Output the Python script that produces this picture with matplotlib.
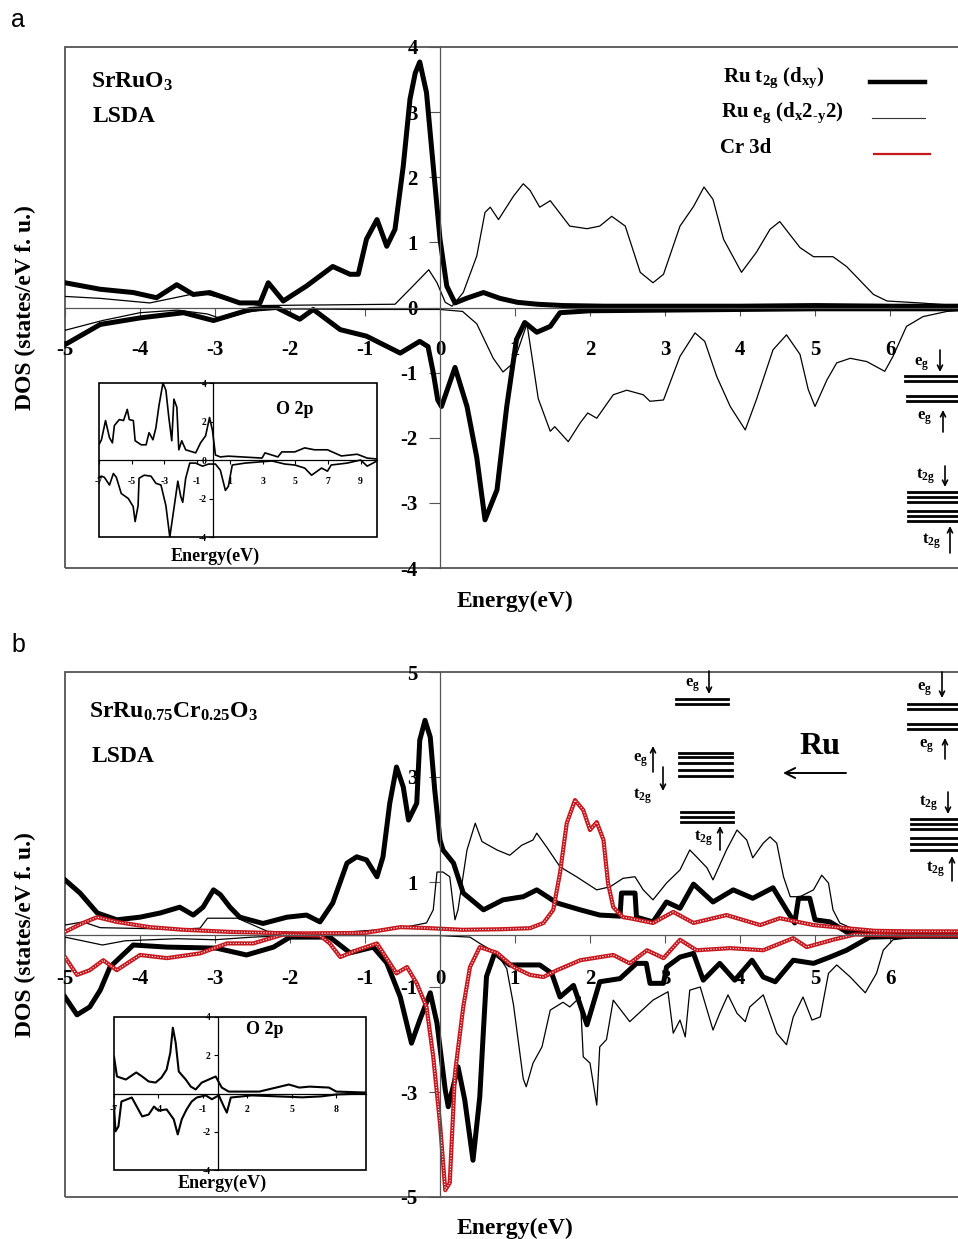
import matplotlib
matplotlib.use('Agg')
import matplotlib.pyplot as plt
from matplotlib.patches import Rectangle, FancyArrowPatch
from matplotlib.lines import Line2D

plt.rcParams['font.family'] = ['Liberation Serif', 'DejaVu Serif']
plt.rcParams['font.weight'] = 'bold'
plt.rcParams['mathtext.default'] = 'regular'
plt.rcParams['axes.unicode_minus'] = False

# ---- panel a : SrRuO3 ----
a_t2g_up_x = [-5, -4.53, -4.09, -3.78, -3.51, -3.29, -3.07, -2.67, -2.4, -2.29, -2.09, -1.78, -1.43, -1.2, -1.09,
              -0.98, -0.84, -0.71, -0.6, -0.49, -0.4, -0.33, -0.27, -0.18, -0.09, 0.0, 0.09, 0.2, 0.35, 0.58, 0.8,
              1.03, 1.3, 1.64, 2.2, 3, 4, 5, 6, 6.9]
a_t2g_up_y = [0.38, 0.28, 0.23, 0.15, 0.35, 0.2, 0.23, 0.07, 0.07, 0.38, 0.1, 0.33, 0.63, 0.51, 0.51,
              1.05, 1.35, 0.94, 1.2, 2.17, 3.2, 3.6, 3.77, 3.3, 2.17, 1.05, 0.33, 0.07, 0.14, 0.23, 0.14,
              0.08, 0.05, 0.03, 0.02, 0.02, 0.02, 0.03, 0.02, 0.02]
a_t2g_dn_x = [-5, -4.53, -4.0, -3.42, -3.02, -2.53, -2.18, -1.87, -1.69, -1.33, -0.98, -0.53, -0.27, -0.16, -0.09,
              -0.03, 0.02, 0.2, 0.36, 0.49, 0.6, 0.76, 0.89, 1.02, 1.13, 1.29, 1.47, 1.6, 2.0, 3.0, 4.0, 5.0, 6.0, 6.9]
a_t2g_dn_y = [-0.57, -0.26, -0.16, -0.08, -0.2, -0.03, 0.0, -0.18, -0.03, -0.34, -0.44, -0.7, -0.52, -0.6, -1.0,
              -1.42, -1.52, -0.92, -1.52, -2.3, -3.26, -2.8, -1.52, -0.49, -0.23, -0.38, -0.29, -0.08, -0.05,
              -0.04, -0.03, -0.02, -0.02, -0.02]
a_eg_up_x = [-5, -4.53, -3.87, -3.2, -2.76, -2.4, -1.5, -0.6, -0.36, -0.15, -0.04, 0.07, 0.16, 0.31, 0.49, 0.6,
             0.67, 0.78, 0.98, 1.11, 1.2, 1.33, 1.47, 1.73, 1.96, 2.13, 2.29, 2.47, 2.67, 2.84, 2.98, 3.2, 3.38,
             3.52, 3.64, 3.78, 4.02, 4.22, 4.4, 4.53, 4.8, 4.98, 5.24, 5.42, 5.78, 5.96, 6.4, 6.9]
a_eg_up_y = [0.17, 0.14, 0.07, 0.23, 0.1, 0.03, 0.04, 0.05, 0.33, 0.58, 0.38, 0.08, 0.02, 0.23, 0.79, 1.46,
             1.54, 1.35, 1.71, 1.9, 1.8, 1.54, 1.64, 1.25, 1.21, 1.25, 1.4, 1.25, 0.54, 0.38, 0.51, 1.25, 1.55,
             1.85, 1.66, 1.05, 0.54, 0.85, 1.2, 1.32, 0.92, 0.78, 0.78, 0.63, 0.2, 0.1, 0.07, 0.03]
a_eg_dn_x = [-5, -4.5, -4.0, -3.5, -3.1, -2.9, -2.6, -2.3, -1.0, 0.0, 0.3, 0.49, 0.71, 0.84, 0.98, 1.16, 1.31,
             1.47, 1.53, 1.71, 1.87, 1.97, 2.09, 2.31, 2.49, 2.71, 2.8, 2.98, 3.2, 3.4, 3.53, 3.69, 3.87, 4.07,
             4.22, 4.44, 4.62, 4.8, 4.91, 5.0, 5.16, 5.29, 5.47, 5.69, 5.93, 6.04, 6.22, 6.44, 6.76, 6.9]
a_eg_dn_y = [-0.35, -0.2, -0.08, -0.04, -0.1, -0.18, -0.08, -0.02, -0.03, -0.03, -0.06, -0.25, -0.78, -0.99,
             -0.85, -0.25, -1.4, -1.9, -1.83, -2.06, -1.77, -1.62, -1.7, -1.34, -1.27, -1.34, -1.44, -1.42,
             -0.75, -0.39, -0.52, -1.06, -1.52, -1.88, -1.41, -0.65, -0.42, -0.72, -1.26, -1.52, -1.11, -0.85,
             -0.78, -0.83, -0.98, -0.75, -0.29, -0.14, -0.06, -0.05]

# ---- panel b : SrRu0.75Cr0.25O3 ----
b_t2g_up_x = [-5, -4.8, -4.57, -4.31, -4.0, -3.73, -3.47, -3.29, -3.16, -3.02, -2.93, -2.8, -2.67, -2.36, -2.04,
              -1.78, -1.6, -1.43, -1.24, -1.11, -0.98, -0.84, -0.76, -0.67, -0.58, -0.49, -0.42, -0.31, -0.27,
              -0.2, -0.13, -0.07, 0.0, 0.04, 0.18, 0.31, 0.58, 0.84, 1.11, 1.29, 1.56, 1.87, 2.13, 2.4, 2.42,
              2.6, 2.62, 2.84, 3.02, 3.2, 3.38, 3.64, 3.91, 4.17, 4.44, 4.62, 4.73, 4.78, 4.93, 5.0, 5.2, 5.42,
              5.8, 6.3, 6.9]
b_t2g_up_y = [1.04, 0.79, 0.41, 0.28, 0.33, 0.41, 0.52, 0.37, 0.52, 0.85, 0.76, 0.52, 0.33, 0.21, 0.33,
              0.37, 0.24, 0.6, 1.36, 1.48, 1.42, 1.1, 1.48, 2.5, 3.19, 2.81, 2.18, 2.5, 3.7,
              4.08, 3.76, 2.75, 1.8, 1.61, 1.36, 0.79, 0.47, 0.66, 0.72, 0.85, 0.6, 0.47, 0.37, 0.35, 0.79,
              0.79, 0.33, 0.24, 0.62, 0.5, 0.96, 0.62, 0.85, 0.69, 0.89, 0.47, 0.22, 0.69, 0.69, 0.28, 0.24, 0.05,
              0.0, -0.03, -0.03]
b_t2g_dn_x = [-5, -4.84, -4.67, -4.53, -4.4, -4.09, -3.64, -2.98, -2.58, -2.22, -2.0, -1.64, -1.47, -1.2, -0.89,
              -0.71, -0.53, -0.38, -0.27, -0.13, -0.04, 0.07, 0.11, 0.24, 0.33, 0.44, 0.53, 0.58, 0.62, 0.73,
              0.93, 1.33, 1.49, 1.6, 1.78, 1.96, 2.13, 2.4, 2.62, 2.75, 2.8, 2.98, 3.02, 3.2, 3.38, 3.51, 3.73,
              3.93, 4.16, 4.31, 4.47, 4.71, 4.98, 5.2, 5.42, 5.73, 6.3, 6.9]
b_t2g_dn_y = [-1.19, -1.53, -1.38, -1.06, -0.62, -0.2, -0.24, -0.26, -0.39, -0.24, -0.05, -0.05, -0.05, -0.35,
              -0.24, -0.54, -1.19, -2.07, -1.63, -1.11, -1.69, -2.96, -3.28, -2.52, -3.15, -4.3, -3.1, -1.8,
              -0.8, -0.35, -0.58, -0.58, -0.74, -1.19, -0.97, -1.72, -0.9, -0.84, -0.55, -0.55, -0.93, -0.93,
              -0.62, -0.43, -0.36, -0.87, -0.55, -0.87, -0.49, -0.81, -0.9, -0.49, -0.55, -0.43, -0.3, -0.05,
              -0.03, -0.03]
b_eg_up_x = [-5, -4.76, -4.53, -3.5, -3.2, -3.1, -2.7, -2.3, -1.5, -0.53, -0.18, -0.09, -0.04, 0.04, 0.13, 0.2,
             0.24, 0.36, 0.47, 0.56, 0.76, 0.93, 1.09, 1.24, 1.29, 1.42, 1.6, 1.82, 2.09, 2.27, 2.44, 2.6, 2.71,
             2.84, 3.02, 3.2, 3.33, 3.42, 3.56, 3.64, 3.82, 3.96, 4.09, 4.17, 4.31, 4.4, 4.49, 4.58, 4.67, 4.8,
             4.98, 5.09, 5.18, 5.24, 5.33, 5.6, 6.2, 6.9]
b_eg_up_y = [0.18, 0.24, 0.13, 0.1, 0.12, 0.31, 0.31, 0.06, 0.02, 0.12, 0.22, 0.47, 1.19, 1.19, 1.1, 0.28,
             0.47, 1.61, 2.12, 1.77, 1.61, 1.51, 1.7, 1.8, 1.93, 1.67, 1.29, 1.1, 0.85, 0.91, 1.07, 1.1, 0.85,
             0.66, 0.98, 1.23, 1.61, 1.48, 1.27, 1.04, 1.61, 1.99, 1.8, 1.46, 1.74, 1.86, 1.74, 1.1, 0.72, 0.72,
             0.85, 1.13, 0.98, 0.47, 0.22, 0.05, 0.02, 0.02]
b_eg_dn_x = [-5, -4.5, -4.2, -3.5, -3.0, -2.5, -2.0, 0.0, 0.4, 0.53, 0.76, 0.89, 0.98, 1.11, 1.15, 1.2, 1.24,
             1.36, 1.47, 1.64, 1.73, 1.87, 1.91, 2.0, 2.09, 2.13, 2.22, 2.31, 2.53, 2.84, 3.04, 3.11, 3.2, 3.27,
             3.33, 3.47, 3.64, 3.73, 3.84, 3.96, 4.07, 4.13, 4.31, 4.49, 4.62, 4.71, 4.84, 4.96, 5.07, 5.18,
             5.29, 5.47, 5.67, 5.82, 5.91, 6.04, 6.5, 6.9]
b_eg_dn_y = [-0.05, -0.2, -0.12, -0.08, -0.1, -0.05, -0.02, -0.02, -0.05, -0.17, -0.36, -0.65, -1.34, -2.75,
             -2.9, -2.65, -2.45, -2.14, -1.44, -1.29, -1.38, -1.19, -2.33, -2.45, -3.25, -2.14, -2.0, -1.25,
             -1.66, -1.25, -1.09, -1.88, -1.63, -1.95, -1.06, -1.0, -1.82, -1.5, -1.15, -1.5, -1.66, -1.38,
             -1.15, -1.88, -2.1, -1.57, -1.19, -1.63, -1.57, -0.74, -0.58, -0.81, -1.11, -0.74, -0.3, -0.1,
             -0.02, -0.02]
b_cr_up_x = [-5, -4.76, -4.57, -4.31, -3.87, -3.42, -2.8, -2.0, -1.0, -0.53, -0.13, 0.3, 0.8, 1.2, 1.38, 1.51,
             1.6, 1.69, 1.8, 1.91, 2.0, 2.09, 2.18, 2.24, 2.31, 2.44, 2.53, 2.84, 3.11, 3.38, 3.82, 4.27, 4.53,
             4.98, 5.42, 5.8, 6.3, 6.9]
b_cr_up_y = [0.05, 0.22, 0.33, 0.24, 0.14, 0.09, 0.05, 0.02, 0.03, 0.14, 0.12, 0.09, 0.1, 0.12, 0.22, 0.47,
             1.17, 2.12, 2.56, 2.37, 1.99, 2.14, 1.8, 0.98, 0.52, 0.33, 0.31, 0.22, 0.43, 0.22, 0.37, 0.18, 0.31,
             0.18, 0.12, 0.07, 0.06, 0.06]
b_cr_dn_x = [-5, -4.84, -4.67, -4.49, -4.31, -4.0, -3.64, -3.2, -2.84, -2.49, -2.09, -1.6, -1.47, -1.33, -1.11,
             -0.84, -0.58, -0.44, -0.31, -0.18, -0.09, 0.0, 0.07, 0.13, 0.2, 0.31, 0.4, 0.53, 0.76, 0.98, 1.2,
             1.38, 1.56, 1.87, 2.31, 2.53, 2.76, 2.98, 3.2, 3.42, 3.87, 4.31, 4.71, 4.89, 5.24, 5.53, 6.2, 6.9]
b_cr_dn_y = [-0.43, -0.77, -0.68, -0.49, -0.68, -0.39, -0.45, -0.36, -0.17, -0.17, 0.0, -0.02, -0.17, -0.43,
             -0.3, -0.17, -0.74, -0.62, -0.93, -1.38, -2.33, -3.6, -4.87, -4.73, -2.64, -1.38, -0.62, -0.24,
             -0.35, -0.62, -0.77, -0.81, -0.68, -0.49, -0.39, -0.55, -0.3, -0.45, -0.1, -0.3, -0.26, -0.3,
             -0.07, -0.24, -0.1, 0.0, -0.02, -0.02]

# ---- insets : O 2p ----
ia_up_x = [-7, -6.85, -6.6, -6.36, -6.18, -6.06, -5.76, -5.5, -5.27, -5.15, -4.9, -4.79, -4.42, -4.12, -3.94,
           -3.7, -3.52, -3.33, -3.09, -2.91, -2.73, -2.55, -2.42, -2.24, -2.12, -1.94, -1.7, -1.09, -0.79, -0.48,
           -0.24, -0.06, 0.12, 0.42, 0.91, 2.97, 3.15, 3.94, 4.18, 4.97, 5.58, 6.18, 6.97, 7.82, 8.79, 9.4, 10]
ia_up_y = [0.8, 1.05, 2.05, 1.16, 0.89, 1.79, 2.1, 2.05, 2.63, 2.1, 2.05, 1.0, 0.79, 0.79, 1.42, 1.05, 1.68,
           2.84, 4.0, 3.63, 2.21, 1.0, 3.16, 2.74, 0.53, 1.0, 0.53, 0.37, 0.89, 1.26, 2.21, 1.53, 0.26, 0.16,
           0.2, 0.1, 0.37, 0.16, 0.42, 0.42, 0.63, 0.53, 0.53, 0.21, 0.3, 0.1, 0.05]
ia_dn_x = [-7, -6.85, -6.67, -6.36, -6.12, -5.94, -5.64, -5.21, -4.91, -4.79, -4.61, -4.55, -4.24, -3.82, -3.52,
           -3.21, -2.91, -2.67, -2.42, -2.18, -2.0, -1.88, -1.7, -1.45, -1.09, -0.67, -0.3, 0.12, 0.42, 0.73,
           0.91, 1.15, 1.94, 3.58, 4.36, 4.97, 5.58, 6.0, 6.61, 6.97, 7.2, 8.18, 9.0, 9.4, 10]
ia_dn_y = [-0.9, -0.84, -0.9, -1.3, -0.7, -0.9, -1.74, -2.0, -2.42, -3.2, -2.37, -0.95, -0.79, -0.84, -1.21,
           -1.3, -2.37, -4.0, -2.53, -1.1, -1.9, -2.2, -0.95, -0.16, -0.16, -0.32, -0.21, -0.21, -0.53, -1.58,
           -1.37, -0.26, -0.16, -0.05, -0.21, -0.26, -0.42, -0.79, -0.42, -0.58, -0.26, -0.16, 0.0, -0.32, -0.05]
ib_up_x = [-7, -6.8, -6.2, -5.5, -5.1, -4.66, -4.2, -3.8, -3.45, -3.2, -3.03, -2.84, -2.63, -2.16, -1.82, -1.49,
           -1.08, -0.61, -0.14, 0.27, 0.74, 2.8, 4.8, 5.5, 6.2, 7.5, 8.0, 10]
ib_up_y = [1.93, 0.89, 0.73, 1.1, 0.89, 0.63, 0.57, 0.83, 1.25, 2.14, 3.44, 2.66, 1.15, 0.73, 0.36, 0.21, 0.57,
           0.73, 0.89, 0.31, 0.1, 0.1, 0.47, 0.31, 0.36, 0.31, 0.1, 0.05]
ib_dn_x = [-7, -6.9, -6.7, -6.5, -5.8, -5.1, -4.66, -4.3, -4.0, -3.45, -2.97, -2.7, -2.43, -2.1, -1.76, -1.42,
           -0.81, -0.4, 0.07, 0.41, 0.61, 0.88, 2.3, 5.7, 7.0, 8.0, 10]
ib_dn_y = [-0.68, -1.98, -1.72, -0.42, -0.21, -1.2, -1.1, -0.68, -0.9, -0.83, -1.35, -2.14, -1.35, -0.83, -0.42,
           -0.21, -0.1, -0.3, -0.1, -0.68, -1.0, -0.21, -0.1, -0.2, -0.15, -0.05, 0.0]

W, H = 958, 1239
fig = plt.figure(figsize=(W / 100, H / 100), dpi=100)
GREY = '#555555'
RED = '#c8161d'


def box(l, t, r, b):
    return [l / W, 1 - b / H, (r - l) / W, (b - t) / H]


def ftext(x, y, s, **kw):
    kw.setdefault('ha', 'center')
    kw.setdefault('va', 'center')
    fig.text(x / W, 1 - y / H, s, **kw)


def hline(x0, x1, y, lw=2.0, color='k'):
    fig.add_artist(Line2D([x0 / W, x1 / W], [1 - y / H, 1 - y / H], color=color, lw=lw))


def arrow(x0, y0, x1, y1, ms=9, lw=1.2):
    fig.add_artist(FancyArrowPatch((x0 / W, 1 - y0 / H), (x1 / W, 1 - y1 / H), transform=fig.transFigure,
                                   arrowstyle='->', mutation_scale=ms, lw=lw, color='k',
                                   shrinkA=0, shrinkB=0))


def dos_axes(rect, ylim, yticks, xpad):
    ax = fig.add_axes(rect)
    ax.set_xlim(-5, -5 + (958 - 65) / 75)
    ax.set_ylim(*ylim)
    ax.spines['left'].set_position('zero')
    ax.spines['bottom'].set_position('zero')
    ax.spines['right'].set_visible(False)
    ax.spines['top'].set_visible(False)
    for s in ax.spines.values():
        s.set_color(GREY)
        s.set_linewidth(0.9)
    ax.add_patch(Rectangle((0, 0), 1.1, 1, transform=ax.transAxes, fill=False, ec=GREY, lw=1.3,
                           clip_on=False))
    ax.set_xticks(range(-5, 7))
    ax.set_yticks(yticks)
    ax.tick_params(axis='x', direction='out', length=6, pad=xpad, labelsize=15, color=GREY)
    ax.tick_params(axis='y', direction='out', length=8, pad=8, labelsize=15, color=GREY)
    return ax


def o2p_inset(rect, xticks, yticks, xpad):
    ins = fig.add_axes(rect)
    ins.set_facecolor('white')
    ins.set_xlim(-7, 10)
    ins.set_ylim(-4, 4)
    ins.spines['left'].set_position('zero')
    ins.spines['bottom'].set_position('zero')
    ins.spines['right'].set_visible(False)
    ins.spines['top'].set_visible(False)
    for s in ins.spines.values():
        s.set_linewidth(0.9)
    ins.add_patch(Rectangle((0, 0), 1, 1, transform=ins.transAxes, fill=False, ec='k', lw=1.2,
                            clip_on=False))
    ins.set_xticks(xticks)
    ins.set_yticks(yticks)
    ins.tick_params(axis='x', direction='out', length=3, pad=xpad, labelsize=7)
    ins.tick_params(axis='y', direction='out', length=3, pad=2, labelsize=7)
    return ins


def red_line(ax, xs, ys):
    ax.plot(xs, ys, color=RED, lw=3, solid_joinstyle='round')
    ax.plot(xs, ys, color='white', lw=0.8, ls=(0, (1, 1.5)))


# ---------------- panel a ----------------
ax_a = dos_axes(box(65, 47, 958, 568), (-4, 4), range(-4, 5), 17.5)
ax_a.plot(a_eg_up_x, a_eg_up_y, color='k', lw=0.9)
ax_a.plot(a_eg_dn_x, a_eg_dn_y, color='k', lw=0.9)
ax_a.plot(a_t2g_up_x, a_t2g_up_y, color='k', lw=3.6, solid_joinstyle='round')
ax_a.plot(a_t2g_dn_x, a_t2g_dn_y, color='k', lw=3.6, solid_joinstyle='round')

ins_a = o2p_inset(box(99, 383, 377, 537), [-7, -5, -3, -1, 1, 3, 5, 7, 9], [-4, -2, 0, 2, 4], 9)
ins_a.plot(ia_up_x, ia_up_y, color='k', lw=1.2)
ins_a.plot(ia_dn_x, ia_dn_y, color='k', lw=1.2)
ftext(295, 410, 'O 2p', size=13)
ftext(215, 556, 'Energy(eV)', size=13)

ftext(18, 20, 'a', size=18, family='Liberation Sans', weight='normal')
ftext(91, 82, 'SrRuO$_3$', size=17, ha='left')
ftext(93, 116, 'LSDA', size=17, ha='left')
ftext(723, 78, r'Ru t$_{2g}$ (d$_{xy}$)', size=15, ha='left')
ftext(721, 113, 'Ru e$_g$ (d$_x$2$_{\u2010y}$2)', size=15, ha='left')
ftext(720, 148, 'Cr 3d', size=15, ha='left')
hline(870, 925, 82, lw=3.2)
hline(872, 925, 118, lw=0.8, color='#333333')
hline(874, 930, 154, lw=1.6, color=RED)
ftext(25, 308, 'DOS (states/eV f. u.)', size=17, rotation=90)
ftext(515, 601, 'Energy(eV)', size=17)

# level scheme, panel a
ftext(922, 364, 'e$_g$', size=12)
arrow(940, 350, 940, 372)
for y in (376, 381):
    hline(905, 958, y)
for y in (396, 401):
    hline(907, 958, y)
ftext(925, 418, 'e$_g$', size=12)
arrow(943, 432, 943, 410)
ftext(926, 476, 't$_{2g}$', size=12)
arrow(945, 466, 945, 487)
for y in (492, 497, 502, 511, 516, 521):
    hline(908, 958, y)
ftext(932, 541, 't$_{2g}$', size=12)
arrow(950, 553, 950, 526)

# ---------------- panel b ----------------
ax_b = dos_axes(box(65, 672, 958, 1197), (-5, 5), [-5, -3, -1, 1, 3, 5], 19)
ax_b.plot(b_eg_up_x, b_eg_up_y, color='k', lw=0.9)
ax_b.plot(b_eg_dn_x, b_eg_dn_y, color='k', lw=0.9)
ax_b.plot(b_t2g_up_x, b_t2g_up_y, color='k', lw=3.6, solid_joinstyle='round')
ax_b.plot(b_t2g_dn_x, b_t2g_dn_y, color='k', lw=3.6, solid_joinstyle='round')
red_line(ax_b, b_cr_up_x, b_cr_up_y)
red_line(ax_b, b_cr_dn_x, b_cr_dn_y)

ins_b = o2p_inset(box(114, 1017, 366, 1170), [-7, -4, -1, 2, 5, 8], [-4, -2, 2, 4], 5.5)
ins_b.plot(ib_up_x, ib_up_y, color='k', lw=1.5)
ins_b.plot(ib_dn_x, ib_dn_y, color='k', lw=1.5)
ftext(265, 1030, 'O 2p', size=13)
ftext(222, 1183, 'Energy(eV)', size=13)

ftext(18, 645, 'b', size=18, family='Liberation Sans', weight='normal')
ftext(89, 712, r'SrRu$_{0.75}$Cr$_{0.25}$O$_3$', size=17, ha='left')
ftext(92, 756, 'LSDA', size=17, ha='left')
ftext(25, 935, 'DOS (states/eV f. u.)', size=17, rotation=90)
ftext(515, 1228, 'Energy(eV)', size=17)

# level scheme, panel b (Cr-doped)
ftext(693, 685, 'e$_g$', size=12)
arrow(709, 671, 709, 694)
for y in (699, 704):
    hline(676, 728, y)
ftext(641, 760, 'e$_g$', size=12)
arrow(653, 772, 653, 746)
arrow(663, 767, 663, 791)
ftext(643, 796, 't$_{2g}$', size=12)
for y in (753, 757, 763, 770, 776):
    hline(679, 732, y)
for y in (812, 817, 822):
    hline(681, 733, y)
ftext(704, 838, 't$_{2g}$', size=12)
arrow(720, 850, 720, 826)

ftext(820, 746, 'Ru', size=23)
arrow(846, 773, 783, 773, ms=18, lw=1.4)

# level scheme, panel b (Ru)
ftext(925, 689, 'e$_g$', size=12)
arrow(942, 672, 942, 698)
for y in (704, 709, 724, 729):
    hline(908, 958, y)
ftext(927, 746, 'e$_g$', size=12)
arrow(945, 759, 945, 738)
ftext(929, 803, 't$_{2g}$', size=12)
arrow(948, 792, 948, 814)
for y in (819, 824, 829, 838, 844, 850):
    hline(911, 958, y)
ftext(936, 869, 't$_{2g}$', size=12)
arrow(952, 881, 952, 856)

fig.savefig('out.png', dpi=100)
